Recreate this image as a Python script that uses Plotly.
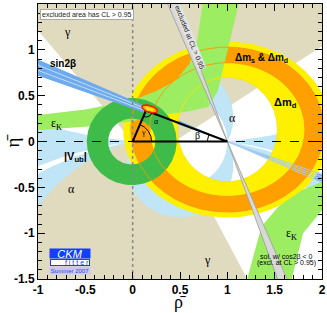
import numpy as np
import plotly.graph_objects as go

# ---------------- values ----------------
RHO_RANGE = [-1.0, 2.0]
ETA_RANGE = [-1.5, 1.5]
X_TICKS = [-1.0, -0.5, 0.0, 0.5, 1.0, 1.5, 2.0]
X_TICK_TEXT = ["-1", "-0.5", "0", "0.5", "1", "1.5", "2"]
Y_TICKS = [-1.5, -1.0, -0.5, 0.0, 0.5, 1.0, 1.5]
Y_TICK_TEXT = ["-1.5", "-1", "-0.5", "0", "0.5", "1", "1.5"]

# apex of the unitarity triangle (global fit)
APEX_RHO = 0.14
APEX_ETA = 0.337
APEX_BLOB = [0.18, 0.355, 0.085, 0.036, -18.0]   # centre rho, eta, semi-axes, tilt (deg)

# gamma allowed region (beige) vertices
GAMMA_UP_RHO = [0.0, -1.0, -1.0, 2.0, 2.0, 0.44]
GAMMA_UP_ETA = [0.0, 1.21, 1.5, 1.5, 1.04, 0.0]
GAMMA_LO_RHO = [-1.0, 0.44, 1.21, -1.0]
GAMMA_LO_ETA = [0.0, 0.0, -1.5, -1.5]

# alpha: arcs of circles through (0,0) and (1,0), centre (0.5, k)
ALPHA_WEDGE_K = [-1.75, 5.1]
ALPHA_GAP_K = [-3.84, -3.03]
ALPHA_LENS_K = [0.0, 0.262]

# sin2beta band: lines through (1,0) with angle beta
SIN2B_BETA_DEG = [19.8, 24.0]
SIN2B_LINES_DEG = [21.2, 22.6]
SIN2B_CLIP_RHO = 0.12

# Delta m_d (yellow) and Delta m_s & Delta m_d (orange) rings: rx, ry
DM_CENTER = [1.0, 0.13]
DMD_INNER = [0.53, 0.57]
DMD_OUTER = [1.10, 0.96]
DMS_INNER = [0.82, 0.73]
DMS_OUTER = [1.02, 0.90]

# |Vub| ring (dark green)
VUB_CENTER = [-0.01, 0.0]
VUB_RADII = [0.25, 0.475]

# epsilon_K bands (light green): boundary polylines
EPSK_UP_TOP_RHO = [-1.0, -0.5, 0.0, 0.25, 0.45, 0.6, 0.68, 0.74]
EPSK_UP_TOP_ETA = [0.29, 0.35, 0.45, 0.55, 0.66, 0.85, 1.1, 1.5]
EPSK_UP_BOT_RHO = [-1.0, -0.5, 0.0, 0.3, 0.6, 0.8, 0.9, 1.0, 1.12]
EPSK_UP_BOT_ETA = [0.125, 0.16, 0.22, 0.29, 0.33, 0.38, 0.55, 1.0, 1.5]
EPSK_LO_LEFT_RHO = [1.21, 1.36, 1.54, 1.79, 2.0]
EPSK_LO_LEFT_ETA = [-1.5, -0.93, -0.71, -0.53, -0.44]
EPSK_LO_RIGHT_RHO = [1.68, 1.8, 2.0]
EPSK_LO_RIGHT_ETA = [-1.5, -1.0, -0.75]

# grey excluded double wedge through (1,0)
GREY_WEDGE_DEG = [109.5, 112.8]

# angle arcs (radius) at the triangle corners
ARC_R_GAMMA = 0.2
ARC_R_ALPHA = 0.07
ARC_R_BETA = 0.21

# colours
C_BEIGE = "#e0dbbf"
C_LBLUE = "#bfe5f7"
C_BLUE = "#6eaaee"
C_YELLOW = "#fff000"
C_ORANGE = "#ffa000"
C_LGREEN = "#9ded63"
C_DGREEN = "#3fbb4a"
C_GREY = "#d8d8d8"

# ---------------- geometry helpers ----------------
BOX = [-1.3, 2.3, -1.8, 1.8]


def ellipse(cx, cy, rx, ry, n=300, rev=False):
    t = np.linspace(0, 2 * np.pi, n)
    if rev:
        t = t[::-1]
    return cx + rx * np.cos(t), cy + ry * np.sin(t)


def ring(c, rin, rout):
    xo, yo = ellipse(c[0], c[1], rout[0], rout[1])
    xi, yi = ellipse(c[0], c[1], rin[0], rin[1], rev=True)
    return np.concatenate([xo, xi]), np.concatenate([yo, yi])


def chord_arc_out(k, n=3000):
    r = np.hypot(0.5, k)
    th0 = np.arctan2(-k, -0.5)
    sgn = 1.0 if k < 0 else -1.0
    t = th0 + sgn * np.linspace(0, np.pi, n)
    x = 0.5 + r * np.cos(t)
    y = k + r * np.sin(t)
    out = (x < BOX[0]) | (x > BOX[1]) | (np.abs(y) > BOX[3])
    idx = int(np.argmax(out)) if out.any() else n - 1
    return x[: idx + 1], y[: idx + 1]


def chord_between(k1, k2, mirror=False):
    x1, y1 = chord_arc_out(k1)
    x2, y2 = chord_arc_out(k2)
    c = np.array([0.5, 0.0])

    def far(px, py):
        v = np.array([px, py]) - c
        return c + 12 * v / np.linalg.norm(v)

    f1 = far(x1[-1], y1[-1])
    f2 = far(x2[-1], y2[-1])
    X = np.concatenate([x1, [f1[0], f2[0]], x2[::-1]])
    Y = np.concatenate([y1, [f1[1], f2[1]], y2[::-1]])
    if mirror:
        X = 1.0 - X
    return X, Y


def chord_lens(k_in, k_out, sign=1.0, n=300):
    def upper_arc(k):
        r = np.hypot(0.5, k)
        a0 = np.arctan2(-k, 0.5)
        a1 = np.mod(np.arctan2(-k, -0.5), 2 * np.pi)
        t = np.linspace(a0, a1, n)
        return 0.5 + r * np.cos(t), k + r * np.sin(t)

    xo, yo = upper_arc(k_out)
    xi, yi = upper_arc(k_in)
    X = np.concatenate([xo, xi[::-1]])
    Y = np.concatenate([yo, yi[::-1]]) * sign
    return X, Y


def wedge_at_one(deg1, deg2, L=6.0):
    a1, a2 = np.radians(deg1), np.radians(deg2)
    X = [1.0, 1 + L * np.cos(a1), 1 + L * np.cos(a2), 1.0, None,
         1.0, 1 - L * np.cos(a1), 1 - L * np.cos(a2), 1.0]
    Y = [0.0, L * np.sin(a1), L * np.sin(a2), 0.0, None,
         0.0, -L * np.sin(a1), -L * np.sin(a2), 0.0]
    return X, Y


def beta_band(b1, b2, rho_min=-6.0, rho_max=8.0):
    t1, t2 = np.tan(np.radians(b1)), np.tan(np.radians(b2))
    X = [rho_min, rho_max, rho_max, rho_min]
    Y = [t1 * (1 - rho_min), t1 * (1 - rho_max), t2 * (1 - rho_max), t2 * (1 - rho_min)]
    return X, Y


fig = go.Figure()


def poly(X, Y, color, name, lw=0, lc=None):
    fig.add_trace(go.Scatter(x=X, y=Y, mode="lines", fill="toself", fillcolor=color,
                             line=dict(width=lw, color=lc or color), hoverinfo="skip",
                             showlegend=False, name=name))


def line(X, Y, color, width=1, dash="solid", name=""):
    fig.add_trace(go.Scatter(x=X, y=Y, mode="lines", line=dict(color=color, width=width, dash=dash),
                             hoverinfo="skip", showlegend=False, name=name))


# 1. gamma
poly(GAMMA_UP_RHO, GAMMA_UP_ETA, C_BEIGE, "gamma")
poly(GAMMA_LO_RHO, GAMMA_LO_ETA, C_BEIGE, "gamma")
# 2. alpha
for m in (False, True):
    X, Y = chord_between(ALPHA_WEDGE_K[0], ALPHA_WEDGE_K[1], mirror=m)
    poly(X, Y, C_LBLUE, "alpha")
    X, Y = chord_between(ALPHA_GAP_K[0], ALPHA_GAP_K[1], mirror=m)
    poly(X, Y, "white", "alpha gap")
for s in (1.0, -1.0):
    X, Y = chord_lens(ALPHA_LENS_K[0], ALPHA_LENS_K[1], sign=s)
    poly(X, Y, C_LBLUE, "alpha")
# 3. sin2beta (full band, underneath)
X, Y = beta_band(*SIN2B_BETA_DEG)
poly(X, Y, C_BLUE, "sin2beta")
# 4. Delta m_d, Delta m_s
X, Y = ring(DM_CENTER, DMD_INNER, DMD_OUTER)
poly(X, Y, C_YELLOW, "dmd")
X, Y = ring(DM_CENTER, DMS_INNER, DMS_OUTER)
poly(X, Y, C_ORANGE, "dms")
# faint sin2beta streaks over the rings (right of (1,0))
for b in SIN2B_BETA_DEG + SIN2B_LINES_DEG:
    tb = np.tan(np.radians(b))
    line([1.0, 2.5], [0.0, -1.5 * tb], "#a6cff2", 1)
# 5. epsilon_K
poly(EPSK_UP_TOP_RHO + EPSK_UP_BOT_RHO[::-1], EPSK_UP_TOP_ETA + EPSK_UP_BOT_ETA[::-1], C_LGREEN, "epsK")
poly(EPSK_LO_LEFT_RHO + EPSK_LO_RIGHT_RHO[::-1], EPSK_LO_LEFT_ETA + EPSK_LO_RIGHT_ETA[::-1], C_LGREEN, "epsK")
# 6. |Vub|
X, Y = ring(VUB_CENTER, [VUB_RADII[0]] * 2, [VUB_RADII[1]] * 2)
poly(X, Y, C_DGREEN, "vub")
# ring outlines drawn over the other constraints
for rr, col in ((DMS_OUTER, "#f59a00"), (DMS_INNER, "#f59a00"), (DMD_INNER, "#f5e600")):
    X, Y = ellipse(DM_CENTER[0], DM_CENTER[1], rr[0], rr[1])
    line(X, Y, col, 0.9)
# 7. sin2beta on top (left part)
X, Y = beta_band(SIN2B_BETA_DEG[0], SIN2B_BETA_DEG[1], rho_max=SIN2B_CLIP_RHO)
poly(X, Y, C_BLUE, "sin2beta")
for b in SIN2B_LINES_DEG:
    tb = np.tan(np.radians(b))
    line([-6, SIN2B_CLIP_RHO], [tb * 7, tb * (1 - SIN2B_CLIP_RHO)], "#c4dcf6", 1)
# 8. grey wedge
X, Y = wedge_at_one(GREY_WEDGE_DEG[0], GREY_WEDGE_DEG[1])
poly(X, Y, C_GREY, "excluded", lw=0.8, lc="#9a9a9a")
# 9. reference lines
line([RHO_RANGE[0], RHO_RANGE[1]], [0, 0], "black", 1, "dash")
line([0, 0], [ETA_RANGE[0], ETA_RANGE[1]], "#8a8a8a", 1.5, "dot")
# triangle
line([0, APEX_RHO, 1, 0], [0, APEX_ETA, 0, 0], "black", 2)
# angle arcs
ag = np.arctan2(APEX_ETA, APEX_RHO)
t = np.linspace(0, ag, 40)
line(ARC_R_GAMMA * np.cos(t), ARC_R_GAMMA * np.sin(t), "black", 1)
ab = np.arctan2(APEX_ETA, APEX_RHO - 1)
t = np.linspace(ab, np.pi, 40)
line(1 + ARC_R_BETA * np.cos(t), ARC_R_BETA * np.sin(t), "black", 1)
a1 = np.arctan2(-APEX_ETA, -APEX_RHO)
a2 = np.arctan2(-APEX_ETA, 1 - APEX_RHO)
t = np.linspace(a1, a2, 40)
line(APEX_RHO + ARC_R_ALPHA * np.cos(t), APEX_ETA + ARC_R_ALPHA * np.sin(t), "black", 1)
# apex blob
cx, cy, ax, ay, tilt = APEX_BLOB
tt = np.linspace(0, 2 * np.pi, 80)
ct, st = np.cos(np.radians(tilt)), np.sin(np.radians(tilt))
bx = cx + ax * np.cos(tt) * ct - ay * np.sin(tt) * st
by = cy + ax * np.cos(tt) * st + ay * np.sin(tt) * ct
poly(bx, by, "#ffb300", "fit", lw=1.5, lc="#ff1a00")
bx2 = cx + 0.55 * ax * np.cos(tt) * ct - 0.45 * ay * np.sin(tt) * st
by2 = cy + 0.55 * ax * np.cos(tt) * st + 0.45 * ay * np.sin(tt) * ct
poly(bx2, by2, "#ffee00", "fit")

# ---------------- labels ----------------
SERIF = "Liberation Serif"
SANS = "Liberation Sans"
LABELS = [
    ("γ", -0.69, 1.2, 12, SERIF, "normal"),
    ("sin2β", -0.74, 0.85, 10, SANS, "bold"),
    ("ε<sub>K</sub>", -0.8, 0.19, 12, SERIF, "normal"),
    ("|V<sub>ub</sub>|", -0.6, -0.17, 11, SANS, "bold"),
    ("α", -0.65, -0.52, 12, SERIF, "normal"),
    ("γ", 0.79, -1.29, 12, SERIF, "normal"),
    ("ε<sub>K</sub>", 1.68, -1.01, 12, SERIF, "normal"),
    ("Δm<sub>s</sub> & Δm<sub>d</sub>", 1.36, 0.91, 10, SANS, "bold"),
    ("Δm<sub>d</sub>", 1.61, 0.42, 11, SANS, "bold"),
    ("α", 1.05, 0.26, 12, SERIF, "normal"),
    ("β", 0.68, 0.065, 10, SERIF, "normal"),
    ("γ", 0.115, 0.095, 8, SERIF, "normal"),
    ("α", 0.25, 0.22, 8, SERIF, "normal"),
    ("sol. w/ cos2β < 0", 1.63, -1.255, 7, SANS, "normal"),
    ("(excl. at CL > 0.95)", 1.63, -1.33, 7, SANS, "normal"),
]
ann = []
for txt, x, y, sz, fam, w in LABELS:
    ann.append(dict(x=x, y=y, xref="x", yref="y", text=txt, showarrow=False,
                    font=dict(family=fam, size=sz, color="black", weight=w)))
ann.append(dict(x=-0.98, y=1.385, xref="x", yref="y", xanchor="left", text="excluded area has CL > 0.95",
                showarrow=False, font=dict(family=SANS, size=7, color="#222"), bgcolor="white",
                bordercolor="#aaaaaa", borderwidth=1, borderpad=1))
ann.append(dict(x=0.6, y=1.13, xref="x", yref="y", text="excluded at CL > 0.95", textangle=68,
                showarrow=False, font=dict(family=SANS, size=7, color="#222"), bgcolor="#e4e4e4",
                borderpad=0))
# CKMfitter logo
ann.append(dict(x=-0.66, y=-1.225, xref="x", yref="y", text="<i>CKM</i>", showarrow=False, width=40, height=9,
                font=dict(family=SANS, size=11, color="white"), bgcolor="#1040ff", borderpad=0))
ann.append(dict(x=-0.66, y=-1.318, xref="x", yref="y", text="f i t t e r", showarrow=False, width=38, height=5,
                align="right", font=dict(family=SANS, size=7, color="#1040ff"), bgcolor="white",
                bordercolor="#1040ff", borderwidth=1, borderpad=0))
ann.append(dict(x=-0.66, y=-1.405, xref="x", yref="y", text="Summer 2007", showarrow=False, width=40, height=7,
                font=dict(family=SANS, size=6, color="#3344cc"), bgcolor="#c8c8f2", borderpad=0))
# axis titles
ann.append(dict(x=0.5, y=0, xref="paper", yref="paper", xanchor="center", yanchor="middle", yshift=-23,
                text="ρ̄", showarrow=False, font=dict(family=SERIF, size=18, color="black")))
ann.append(dict(x=0, y=0.5, xref="paper", yref="paper", xanchor="center", yanchor="middle", xshift=-26,
                text="η̄", textangle=-90, showarrow=False, font=dict(family=SERIF, size=19, color="black")))

axis_common = dict(showgrid=False, zeroline=False, showline=True, linecolor="black", linewidth=1,
                   mirror="allticks", ticks="inside", ticklen=7, tickwidth=1, tickcolor="black",
                   automargin=False,
                   minor=dict(ticks="inside", ticklen=4, dtick=0.1, tickcolor="black"),
                   tickfont=dict(family=SANS, size=12, color="black", weight="bold"))
fig.update_layout(
    width=327, height=313, margin=dict(l=38, r=5, t=4, b=34),
    paper_bgcolor="white", plot_bgcolor="white",
    xaxis=dict(range=RHO_RANGE, tickvals=X_TICKS, ticktext=X_TICK_TEXT, **axis_common),
    yaxis=dict(range=ETA_RANGE, tickvals=Y_TICKS, ticktext=Y_TICK_TEXT, **axis_common),
    annotations=ann,
)
fig.write_html("out.html", config={"displayModeBar": False},
               post_script="document.body.style.margin='0';document.body.style.overflow='hidden';")
